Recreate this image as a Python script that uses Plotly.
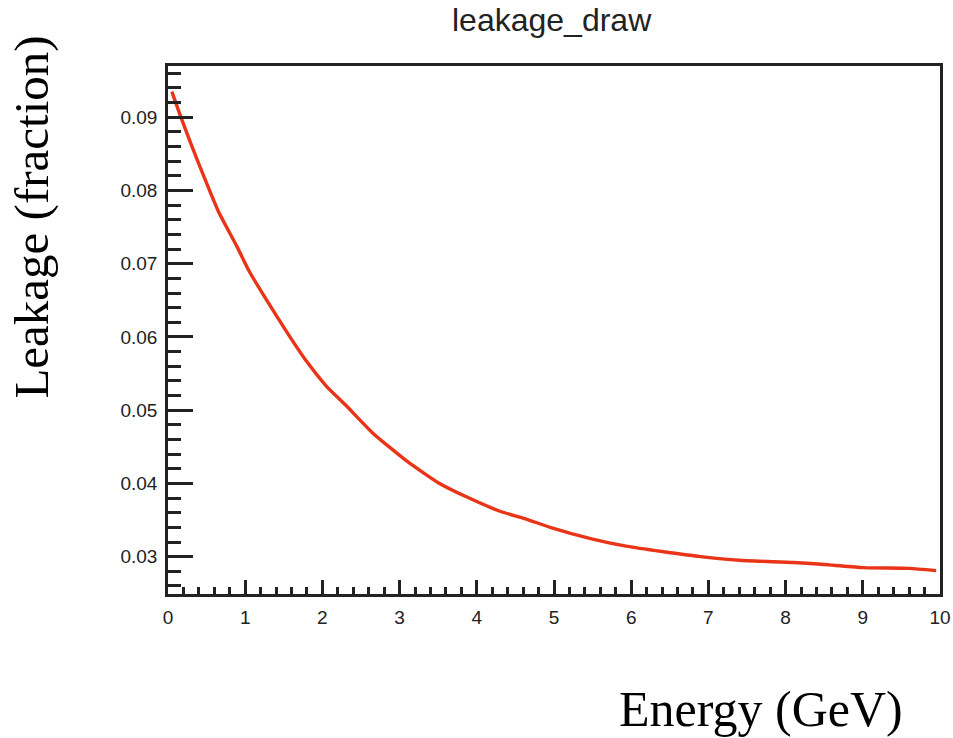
import plotly.graph_objects as go

# Data
energy = [0.05, 0.15, 0.3, 0.45, 0.65, 0.9, 1.05, 1.25, 1.55, 1.8, 2.05, 2.3,
          2.65, 3.1, 3.5, 3.9, 4.3, 4.65, 4.95, 5.5, 5.95, 6.4, 6.9, 7.4,
          8.1, 8.55, 9.0, 9.6, 9.95]
leakage = [0.0935, 0.0905, 0.0863, 0.0823, 0.0772, 0.0722, 0.0690, 0.0655,
           0.0605, 0.0566, 0.0533, 0.0507, 0.0469, 0.0430, 0.0401, 0.0380,
           0.0362, 0.0351, 0.0340, 0.0324, 0.0314, 0.0307, 0.0300, 0.0295,
           0.0292, 0.0289, 0.0285, 0.0284, 0.0281]

x_ticks = [0, 1, 2, 3, 4, 5, 6, 7, 8, 9, 10]
y_ticks = [0.03, 0.04, 0.05, 0.06, 0.07, 0.08, 0.09]
y_tick_labels = ["0.03", "0.04", "0.05", "0.06", "0.07", "0.08", "0.09"]

title_text = "leakage_draw"
x_label = "Energy (GeV)"
y_label = "Leakage (fraction)"

fig = go.Figure()
fig.add_trace(go.Scatter(
    x=energy, y=leakage, mode="lines",
    line=dict(color="rgb(234,52,24)", width=3.4, shape="spline", smoothing=0.5),
    showlegend=False, hoverinfo="skip",
))

tick_font = dict(family="Liberation Sans, Arial, sans-serif", size=19, color="#222")
serif = "Liberation Serif, Times New Roman, serif"

fig.update_layout(
    width=953, height=738, autosize=False,
    margin=dict(l=168, r=13, t=66, b=144, autoexpand=False),
    paper_bgcolor="white", plot_bgcolor="white",
    xaxis=dict(
        range=[0, 10], tickvals=x_ticks, ticktext=[str(v) for v in x_ticks],
        ticks="inside", ticklen=14, tickwidth=2.5, tickcolor="#222",
        minor=dict(dtick=0.2, ticks="inside", ticklen=7, tickwidth=2.5, tickcolor="#222", showgrid=False),
        showline=True, linecolor="#222", linewidth=2.5, mirror=True, automargin=False,
        showgrid=False, zeroline=False, tickfont=tick_font, ticklabelstandoff=4,
    ),
    yaxis=dict(
        range=[0.0249, 0.0970], tickvals=y_ticks, ticktext=y_tick_labels,
        ticks="inside", ticklen=25, tickwidth=2.5, tickcolor="#222",
        minor=dict(dtick=0.002, tick0=0.03, ticks="inside", ticklen=13, tickwidth=2.5, tickcolor="#222", showgrid=False),
        showline=True, linecolor="#222", linewidth=2.5, mirror=True, automargin=False,
        showgrid=False, zeroline=False, tickfont=tick_font, ticklabelstandoff=4,
    ),
    annotations=[
        dict(text=title_text, xref="paper", yref="paper", x=0.497, y=1.087,
             xanchor="center", yanchor="middle", showarrow=False,
             font=dict(family="Liberation Sans, Arial, sans-serif", size=32, color="#222")),
        dict(text=y_label, xref="paper", yref="paper", x=-0.178, y=0.714,
             xanchor="center", yanchor="middle", showarrow=False, textangle=-90,
             font=dict(family=serif, size=49, color="black")),
        dict(text=x_label, xref="paper", yref="paper", x=0.768, y=-0.218,
             xanchor="center", yanchor="middle", showarrow=False,
             font=dict(family=serif, size=50, color="black")),
    ],
)

fig.write_html("out.html")
